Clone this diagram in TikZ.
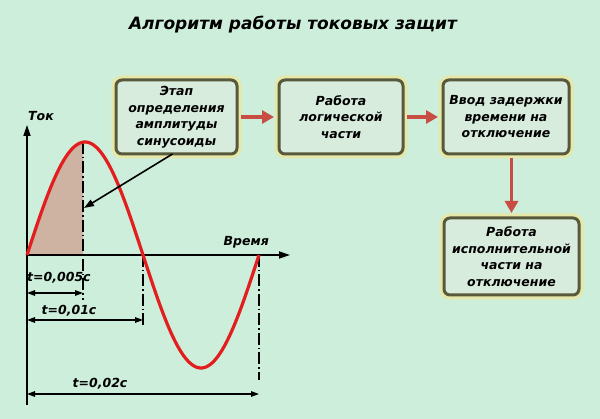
\documentclass[tikz,border=0pt]{standalone}
\usepackage{fontspec}
\setmainfont{DejaVu Sans}
\usetikzlibrary{arrows.meta}
\definecolor{bg}{RGB}{204,238,218}
\definecolor{boxfill}{RGB}{216,236,222}
\definecolor{boxborder}{RGB}{88,88,58}
\definecolor{glow}{RGB}{230,232,170}
\definecolor{redarrow}{RGB}{200,78,68}
\definecolor{sinred}{RGB}{226,30,30}
\definecolor{areafill}{RGB}{206,178,162}
\tikzset{
  stagebox/.style={draw=boxborder, line width=3pt, fill=boxfill, rounded corners=6pt,
    preaction={draw=glow, line width=9pt},
    align=center, font=\fontsize{12.5}{16.5}\selectfont\bfseries\itshape, inner sep=2pt, outer sep=0pt},
  flowarrow/.style={draw=redarrow, line width=3.8pt, -{Triangle[length=12pt,width=13pt]}},
  axisline/.style={draw=black, line width=1.7pt, -{Triangle[length=11pt,width=7pt]}},
  dimline/.style={draw=black, line width=1.4pt, {Triangle[length=8pt,width=5.5pt]}-{Triangle[length=8pt,width=5.5pt]}},
  guide/.style={draw=black, line width=1.2pt, dash pattern=on 12pt off 3pt on 1.5pt off 3pt},
  lbl/.style={font=\fontsize{12.5}{14}\selectfont\bfseries\itshape, inner sep=1pt},
}
\begin{document}
\begin{tikzpicture}[x=1pt,y=-1pt]
\fill[bg] (0,0) rectangle (600,419);
\useasboundingbox (0,0) rectangle (600,419);

\node[font=\fontsize{17}{20}\selectfont\bfseries\itshape] (title) at (293,25) {Алгоритм работы токовых защит};

% boxes
\node[stagebox, minimum width=121pt, minimum height=74pt] (b1) at (176.5,117) {Этап\\определения\\амплитуды\\синусоиды};
\node[stagebox, minimum width=124pt, minimum height=74pt] (b2) at (341,117) {Работа\\логической\\части};
\node[stagebox, minimum width=126pt, minimum height=74pt] (b3) at (506,117) {Ввод задержки\\времени на\\отключение};
\node[stagebox, minimum width=135pt, minimum height=77pt] (b4) at (511.5,256.5) {Работа\\исполнительной\\части на\\отключение};

\draw[flowarrow, shorten <=4pt, shorten >=5pt] (b1.east) -- (b2.west);
\draw[flowarrow, shorten <=4pt, shorten >=5pt] (b2.east) -- (b3.west);
\draw[flowarrow, shorten <=4pt, shorten >=5pt] (b3.south -| b4.north) -- (b4.north);

% shaded quarter
\fill[areafill] plot[domain=27:83, samples=40] (\x,{255-113*sin((\x-27)/232*360)}) -- (83,255) -- cycle;

% guides
\coordinate (t0) at (27,255);
\coordinate (t1) at (83,255);
\coordinate (t2) at (143,255);
\coordinate (t3) at (259,255);
\draw[guide] (83,142) -- (83,300);
\draw[guide] (t2) -- (143,326);
\draw[guide] (t3) -- (259,380);

% axes
\coordinate (yb) at (27,405);
\coordinate (yt) at (27,125);
\coordinate (xr) at (290,255);
\draw[axisline] (yb) -- (yt);
\draw[axisline] (t0) -- (xr);
\node[lbl, anchor=south west] (tok) at (27,122) {Ток};
\node[lbl, anchor=south east] (vremya) at (270,249) {Время};

% sine
\draw[sinred, line width=3.2pt] plot[domain=27:259, samples=120] (\x,{255-113*sin((\x-27)/232*360)});

% pointer arrow
\coordinate (q) at (84,208);
\draw[black, line width=1.6pt, -{Triangle[length=10pt,width=7pt]}] ([xshift=-4pt]b1.south) -- (q);

% dimensions
\node[lbl, anchor=west] (l1) at (26,278) {t=0,005с};
\draw[dimline] (27,293) -- (83,293);
\node[lbl] (l2) at (69,311) {t=0,01с};
\draw[dimline] (27,320) -- (143,320);
\node[lbl] (l3) at (100,384) {t=0,02с};
\draw[dimline] (27,394) -- (259,394);
\end{tikzpicture}
\end{document}
